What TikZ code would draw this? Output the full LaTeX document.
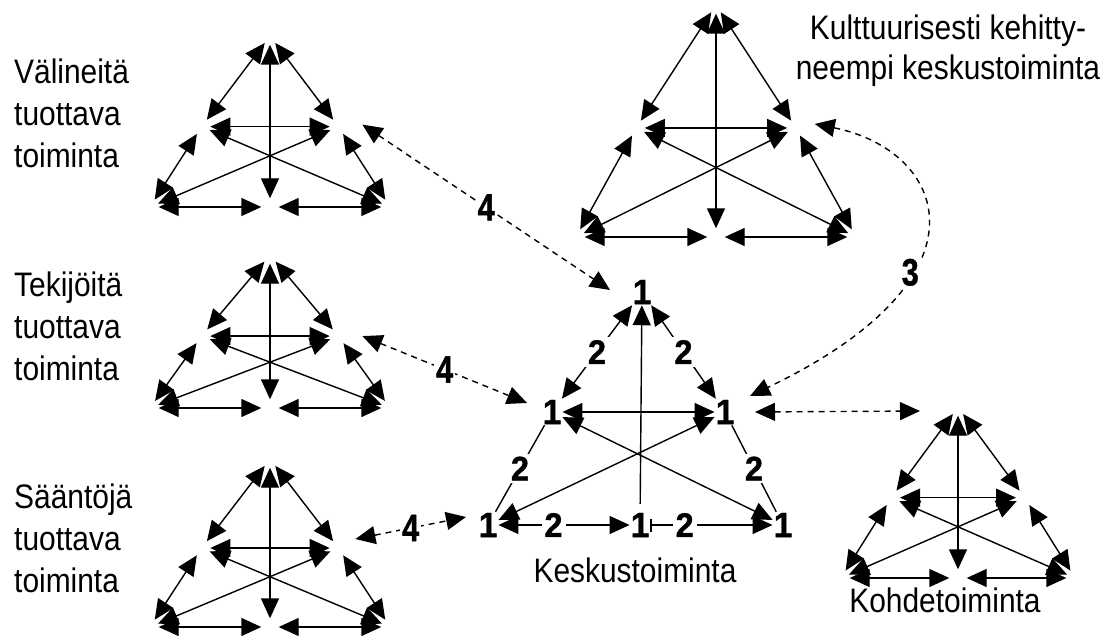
\documentclass[tikz,border=0pt]{standalone}
\usepackage{fontspec}
\usetikzlibrary{arrows.meta,calc}
\newfontfamily\txtf{Liberation Sans}[FakeStretch=0.88]
\newfontfamily\numf{Liberation Sans}[FakeStretch=0.95,BoldFeatures={FakeBold=1.2}]
\newfontfamily\narf{Liberation Sans}[FakeStretch=0.8,BoldFeatures={FakeBold=1.2}]
\tikzset{
  Tri/.tip={Triangle[length=20pt,width=18pt]},
  vtx/.style={circle,minimum size=17pt,inner sep=0pt},
  dbl/.style={Tri-Tri},
  tedge/.style={line width=1.4pt,dbl},
  cedge/.style={line width=1.4pt},
  one/.style={font=\numf\bfseries\fontsize{35}{35}\selectfont,inner sep=1pt},
  two/.style={font=\numf\bfseries\fontsize{34}{34}\selectfont,fill=white,inner sep=3pt},
  four/.style={font=\narf\bfseries\fontsize{38}{38}\selectfont,fill=white,inner sep=2pt},
  dsh/.style={line width=1.4pt,dash pattern=on 6pt off 5pt,dbl},
  lbl/.style={font=\txtf\fontsize{34}{42}\selectfont,inner sep=0pt},
  pics/act/.style args={#1/#2}{code={
    \node[vtx] (-t)  at (0,0) {};
    \node[vtx] (-l)  at (-0.57*#1,0.53*#2) {};
    \node[vtx] (-r)  at (0.57*#1,0.53*#2) {};
    \node[vtx] (-bl) at (-#1,#2) {};
    \node[vtx] (-bm) at (0,#2) {};
    \node[vtx] (-br) at (#1,#2) {};
    \draw[tedge] (-t) -- (-l);
    \draw[tedge] (-t) -- (-r);
    \draw[tedge] (-t) -- (-bm);
    \draw[tedge] (-l) -- (-r);
    \draw[tedge] (-l) -- (-bl);
    \draw[tedge] (-r) -- (-br);
    \draw[tedge] (-bl) -- (-bm);
    \draw[tedge] (-bm) -- (-br);
    \draw[tedge] (-l) -- (-br);
    \draw[tedge] (-r) -- (-bl);
  }}
}
\begin{document}
\begin{tikzpicture}[x=1pt,y=-1pt]
\useasboundingbox (0,0) rectangle (1105,636);
% small activity systems
\pic (v) at (270,36) {act={120/171}};
\pic (e) at (270,255) {act={120/153}};
\pic (s) at (270,459) {act={120/168}};
\pic (c) at (716,5) {act={140/232}};
\pic (o) at (958,407) {act={117/171}};
% labels
\node[lbl,anchor=base west,align=left] (tv) at (14,168) {Välineitä\\tuottava\\toiminta};
\node[lbl,anchor=base west,align=left] (te) at (14,380) {Tekijöitä\\tuottava\\toiminta};
\node[lbl,anchor=base west,align=left] (ts) at (14,592) {Sääntöjä\\tuottava\\toiminta};
\node[lbl,anchor=base,align=center,font=\txtf\fontsize{34}{40}\selectfont] (tc) at (948,80) {Kulttuurisesti kehitty-\\neempi keskustoiminta};
\node[lbl,anchor=base] (tk) at (635,582) {Keskustoiminta};
\node[lbl,anchor=base] (to) at (945,612) {Kohdetoiminta};
% central activity system
\node[one] (k-t)  at (642,292) {1};
\node[one] (k-l)  at (552,412) {1};
\node[one] (k-r)  at (725,412) {1};
\node[one] (k-bl) at (488,525) {1};
\node[one] (k-bm) at (640,525) {1};
\node[one] (k-br) at (783,525) {1};
\draw[cedge,dbl] (k-t) -- node[two]{2} (k-l);
\draw[cedge,dbl] (k-t) -- node[two]{2} (k-r);
\draw[cedge] (k-l) -- node[two]{2} (k-bl);
\draw[cedge] (k-r) -- node[two]{2} (k-br);
\draw[cedge,dbl] (k-bl) -- node[two,pos=0.42]{2} (k-bm);
\draw[cedge,{Bar[width=13pt]}-Tri] (k-bm) -- node[two,pos=0.28]{2} (k-br);
\draw[cedge,-Tri,shorten <=8pt] (k-bm) -- (k-t);
\draw[cedge,dbl] (k-l) -- (k-r);
\draw[cedge,dbl] (k-l) -- (k-br);
\draw[cedge,dbl] (k-r) -- (k-bl);
% dashed connections
\coordinate (d1a) at ($(v-r)+(24,-2)$);
\coordinate (d1b) at ($(k-t)+(-32,-2)$);
\coordinate (d2a) at ($(e-r)+(24,0)$);
\coordinate (d2b) at ($(k-l)+(-25,-9)$);
\coordinate (d3a) at ($(s-r)+(17,-9)$);
\coordinate (d3b) at ($(k-bl)+(-22,-8)$);
\coordinate (d4a) at ($(c-r)+(19,-4)$);
\coordinate (d4b) at ($(k-r)+(25,-16)$);
\coordinate (d5a) at ($(k-r)+(30,0)$);
\coordinate (d5b) at ($(o-t)+(-38,4)$);
\draw[dsh] (d1a) -- node[four]{4} (d1b);
\draw[dsh] (d2a) -- node[four]{4} (d2b);
\draw[dsh] (d3a) -- node[four]{4} (d3b);
\draw[dsh] (d4a) .. controls +(130,26) and +(250,-120) .. node[four,pos=0.65]{3} (d4b);
\draw[dsh] (d5a) -- (d5b);
\end{tikzpicture}
\end{document}
